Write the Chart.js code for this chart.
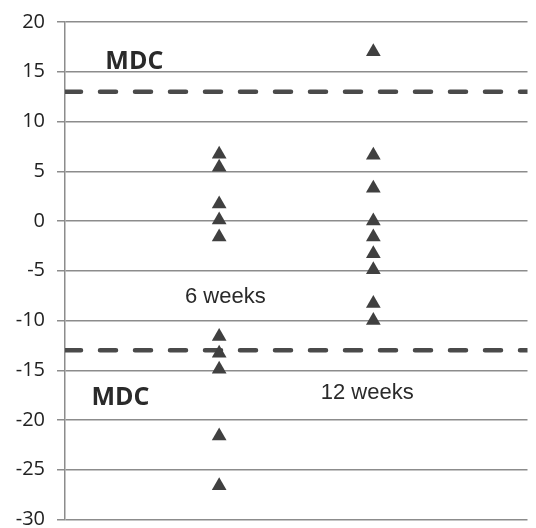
<!DOCTYPE html>
<html>
<head>
<meta charset="utf-8">
<script src="https://cdn.jsdelivr.net/npm/chart.js@4"></script>
<style>
  html, body { margin: 0; padding: 0; background: #fff; overflow: hidden; }
  #wrap { width: 536px; height: 528px; }
  canvas { display: block; }
</style>
</head>
<body>
<div id="wrap"><canvas id="mdcChart" width="536" height="528"></canvas></div>
<script>
// change scores
const week6 = [6.7, 5.4, 1.7, 0.1, -1.6, -11.6, -13.3, -14.9, -21.6, -26.6];
const week12 = [17, 6.6, 3.3, 0, -1.6, -3.3, -4.9, -8.3, -10];
const mdc = 13;
const yTicks = [20, 15, 10, 5, 0, -5, -10, -15, -20, -25, -30];

// text labels placed in data space: [text, x, y, bold]
const notes = [
  ['MDC', 0.45, 16, true],
  ['MDC', 0.36, -17.8, true],
  ['6 weeks', 1.04, -7.6, false],
  ['12 weeks', 1.96, -17.3, false]
];

const notesPlugin = {
  id: 'notes',
  afterDatasetsDraw(chart) {
    const { ctx, scales } = chart;
    ctx.save();
    ctx.fillStyle = '#2a2a2a';
    ctx.textAlign = 'center';
    ctx.textBaseline = 'middle';
    notes.forEach(([t, x, y, bold]) => {
      ctx.font = bold ? 'bold 25px "Open Sans", sans-serif' : '22px "Liberation Sans", Arial, sans-serif';
      ctx.fillText(t, scales.x.getPixelForValue(x), scales.y.getPixelForValue(y));
    });
    ctx.restore();
  }
};

const mdcLine = (v) => ({
  type: 'line',
  data: [{ x: 0, y: v }, { x: 3, y: v }],
  borderColor: '#4a4a4a',
  borderWidth: 4.5,
  borderDash: [16, 19],
  borderCapStyle: 'round',
  pointRadius: 0,
  fill: false
});

const ctx = document.getElementById('mdcChart').getContext('2d');
new Chart(ctx, {
  type: 'scatter',
  data: {
    datasets: [
      {
        label: '6 weeks',
        data: week6.map(v => ({ x: 1, y: v })),
        pointStyle: 'triangle',
        pointRadius: 8.5,
        backgroundColor: '#404040',
        borderColor: '#404040',
        borderWidth: 0
      },
      {
        label: '12 weeks',
        data: week12.map(v => ({ x: 2, y: v })),
        pointStyle: 'triangle',
        pointRadius: 8.5,
        backgroundColor: '#404040',
        borderColor: '#404040',
        borderWidth: 0
      },
      mdcLine(mdc),
      mdcLine(-mdc)
    ]
  },
  options: {
    responsive: false,
    animation: false,
    layout: { padding: { top: 22, bottom: 7, right: 0, left: 0 } },
    plugins: { legend: { display: false }, tooltip: { enabled: false } },
    scales: {
      x: { type: 'linear', min: 0, max: 3, display: false },
      y: {
        min: -30,
        max: 20,
        afterBuildTicks: (axis) => { axis.ticks = yTicks.map(v => ({ value: v })); },
        afterFit: (axis) => {
          axis.width = 65;
          axis.paddingTop = 0;
          axis.paddingBottom = 0;
        },
        grid: { color: '#8c8c8c', lineWidth: 1.5, tickLength: 8 },
        border: { color: '#8c8c8c', width: 1.5 },
        ticks: {
          color: '#222',
          padding: 12,
          font: { family: '"Open Sans", sans-serif', size: 20 }
        }
      }
    }
  },
  plugins: [notesPlugin]
});
</script>
</body>
</html>
